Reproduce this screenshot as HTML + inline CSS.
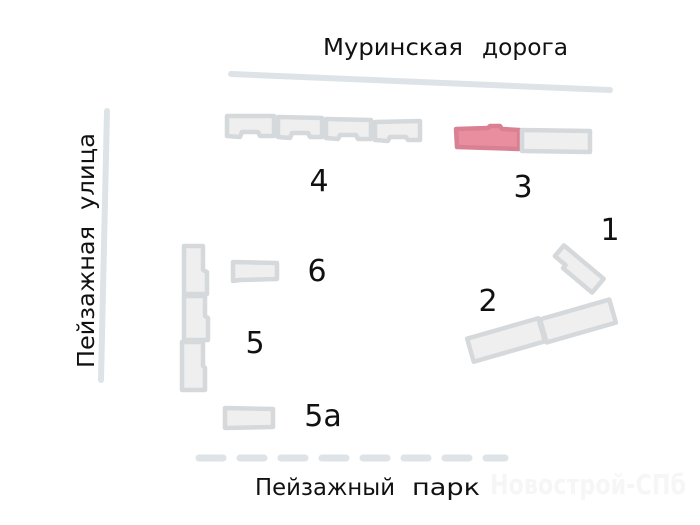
<!DOCTYPE html>
<html><head><meta charset="utf-8"><style>body{margin:0;background:#fff}svg{display:block}text{font-family:"DejaVu Sans","Liberation Sans",sans-serif;fill:#111}</style></head><body>
<svg width="700" height="525" viewBox="0 0 700 525">
<g stroke="#dde3e6" stroke-linecap="round">
<line x1="231" y1="74" x2="610" y2="90" stroke-width="6"/>
<line x1="107" y1="111" x2="101" y2="380" stroke-width="6"/>
<line x1="199" y1="458" x2="505" y2="458" stroke-width="7" stroke-dasharray="24 17"/>
</g>
<g fill="#efefef" stroke="#d5d9dc" stroke-width="4.5" stroke-linejoin="round">
<path d="M227 116 L274 116 L274 136 L260 136 L258 132 L242 132 L240 137 L227 136 Z"/>
<path d="M278 117 L322 118 L322 137 L310 137 L308 133 L292 133 L290 138 L278 137 Z"/>
<path d="M326 119 L371 120 L371 139 L358 139 L356 135 L340 135 L338 139 L326 138 Z"/>
<path d="M375 122 L420 121 L420 140 L408 140 L406 137 L390 137 L388 141 L375 140 Z"/>
<path d="M456 129 L488 128 L490 126 L500 126 L502 129 L519 130 L519 149 L457 147 Z" fill="#e88e9f" stroke="#d98192"/>
<path d="M522 130 L590 131 L590 152 L522 151 Z"/>
<g transform="translate(578 269) rotate(40)"><path d="M-26 -9 L26 -9 L26 9 L-12 9 L-12 5 L-26 5 Z"/></g>
<g transform="translate(506 340) rotate(-16)"><rect x="-37" y="-12" width="74" height="24"/></g>
<g transform="translate(578 321) rotate(-16)"><rect x="-36" y="-12" width="72" height="24"/></g>
<path d="M184 246 L203 246 L203 270 L207 272 L207 294 L184 294 Z"/>
<path d="M184 296 L205 296 L205 316 L208 318 L208 340 L184 340 Z"/>
<path d="M182 342 L203 342 L203 366 L205 368 L205 390 L182 390 Z"/>
<path d="M233 262 L277 263 L277 279 L240 280 L233 281 Z"/>
<path d="M225 408 L273 409 L273 427 L225 428 Z"/>
</g>
<g font-size="23">
<text x="323" y="55" textLength="140" lengthAdjust="spacingAndGlyphs">Муринская</text>
<text x="482" y="55" textLength="86" lengthAdjust="spacingAndGlyphs">дорога</text>
<text transform="translate(94 368) rotate(-90)" textLength="142" lengthAdjust="spacingAndGlyphs">Пейзажная</text>
<text transform="translate(94 210) rotate(-90)" textLength="77" lengthAdjust="spacingAndGlyphs">улица</text>
<text x="255" y="495" textLength="140" lengthAdjust="spacingAndGlyphs">Пейзажный</text>
<text x="412" y="495" textLength="68" lengthAdjust="spacingAndGlyphs">парк</text>
</g>
<text x="490" y="494" font-size="28" textLength="196" lengthAdjust="spacingAndGlyphs" style="fill:#f6f6f6;font-weight:bold">Новострой-СПб</text>
<g font-size="30" text-anchor="middle">
<text x="319" y="191">4</text>
<text x="523" y="197">3</text>
<text x="610" y="240">1</text>
<text x="488" y="311">2</text>
<text x="317" y="281">6</text>
<text x="255" y="353">5</text>
<text x="323" y="426">5a</text>
</g>
</svg>
</body></html>
